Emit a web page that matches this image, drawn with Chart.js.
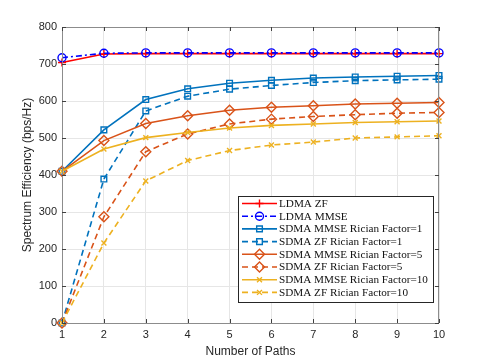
<!DOCTYPE html>
<html lang="en">
<head>
<meta charset="UTF-8">
<title>Spectrum Efficiency vs Number of Paths</title>
<script src="https://cdn.jsdelivr.net/npm/chart.js"></script>
<style>
  html, body { margin: 0; padding: 0; background: #fff; }
  #wrap { width: 485px; height: 363px; }
</style>
</head>
<body>
<div id="wrap"><canvas id="seChart" width="485" height="363"></canvas></div>
<script>
// data
const paths = [1, 2, 3, 4, 5, 6, 7, 8, 9, 10];
const yTicks = [0, 100, 200, 300, 400, 500, 600, 700, 800];

const ldmaZF      = [704, 727, 728, 728, 728, 728, 728, 728, 728, 728];
const ldmaMMSE    = [717, 729, 730, 730, 730, 730, 730, 730, 730, 730];
const sdmaMmseK1  = [410, 522, 604, 633, 648, 656, 662, 665, 667, 669];
const sdmaZfK1    = [0, 389, 573, 613, 632, 642, 650, 655, 657, 659];
const sdmaMmseK5  = [410, 493, 539, 560, 575, 583, 587, 592, 594, 596];
const sdmaZfK5    = [0, 287, 463, 511, 538, 551, 558, 563, 567, 569];
const sdmaMmseK10 = [410, 470, 501, 515, 527, 534, 538, 542, 544, 546];
const sdmaZfK10   = [0, 216, 384, 439, 466, 481, 489, 500, 503, 506];

const seriesNames = [
  'LDMA ZF',
  'LDMA MMSE',
  'SDMA MMSE Rician Factor=1',
  'SDMA ZF Rician Factor=1',
  'SDMA MMSE Rician Factor=5',
  'SDMA ZF Rician Factor=5',
  'SDMA MMSE Rician Factor=10',
  'SDMA ZF Rician Factor=10'
];
const seriesData = [ldmaZF, ldmaMMSE, sdmaMmseK1, sdmaZfK1, sdmaMmseK5, sdmaZfK5, sdmaMmseK10, sdmaZfK10];

// styles (matlab-ish)
const styles = [
  { color: '#ff0000', dash: [], marker: 'cross', r: 4 },
  { color: '#0000ff', dash: [6, 3, 2, 3], marker: 'circle', r: 4 },
  { color: '#0072bd', dash: [], marker: 'rect', r: 4 },
  { color: '#0072bd', dash: [6, 4], marker: 'rect', r: 4 },
  { color: '#d95319', dash: [], marker: 'rectRot', r: 5 },
  { color: '#d95319', dash: [6, 4], marker: 'rectRot', r: 5 },
  { color: '#edb120', dash: [], marker: 'crossRot', r: 3.5 },
  { color: '#edb120', dash: [6, 4], marker: 'crossRot', r: 3.5 }
];

const datasets = seriesNames.map((name, i) => ({
  label: name,
  data: paths.map((p, j) => ({ x: p, y: seriesData[i][j] })),
  borderColor: styles[i].color,
  backgroundColor: 'rgba(0,0,0,0)',
  borderWidth: 1.6,
  borderDash: styles[i].dash,
  pointStyle: styles[i].marker,
  pointRadius: styles[i].r,
  pointBorderWidth: 1.4,
  pointBorderColor: styles[i].color,
  pointBackgroundColor: 'rgba(0,0,0,0)',
  tension: 0,
  clip: false,
  order: 10 - i
}));

// box, inward ticks and the legend inside the plot
const boxPlugin = {
  id: 'boxPlugin',
  afterDraw(chart) {
    const { ctx, chartArea: a, scales } = chart;
    ctx.save();
    ctx.strokeStyle = '#8c8c8c';
    ctx.lineWidth = 1;
    ctx.setLineDash([]);
    ctx.strokeRect(a.left + 0.5, a.top + 0.5, a.right - a.left - 1, a.bottom - a.top);
    ctx.strokeStyle = '#404040';
    ctx.beginPath();
    yTicks.forEach(v => {
      const y = Math.round(scales.y.getPixelForValue(v)) + 0.5;
      ctx.moveTo(a.left, y); ctx.lineTo(a.left + 4, y);
      ctx.moveTo(a.right, y); ctx.lineTo(a.right - 4, y);
    });
    paths.forEach(v => {
      const x = Math.round(scales.x.getPixelForValue(v)) + 0.5;
      ctx.moveTo(x, a.bottom); ctx.lineTo(x, a.bottom - 4);
      ctx.moveTo(x, a.top); ctx.lineTo(x, a.top + 4);
    });
    ctx.stroke();

    // legend
    const lx = 238, ly = 196, lw = 195, lh = 106;
    ctx.fillStyle = '#fff';
    ctx.fillRect(lx, ly, lw, lh);
    ctx.strokeStyle = '#262626';
    ctx.strokeRect(lx + 0.5, ly + 0.5, lw, lh);
    ctx.font = '11.2px "Liberation Serif", serif';
    ctx.textBaseline = 'middle';
    chart.data.datasets.forEach((ds, i) => {
      const y = ly + 7.5 + i * 12.7;
      ctx.strokeStyle = ds.borderColor;
      ctx.lineWidth = 1.6;
      ctx.setLineDash(ds.borderDash);
      ctx.beginPath();
      ctx.moveTo(lx + 4, y); ctx.lineTo(lx + 39, y);
      ctx.stroke();
      ctx.setLineDash([]);
      ctx.lineWidth = 1.4;
      ctx.fillStyle = 'rgba(0,0,0,0)';
      Chart.helpers.drawPoint(ctx, { pointStyle: ds.pointStyle, radius: ds.pointRadius, rotation: 0, borderWidth: 1.4 }, lx + 21.5, y);
      ctx.fillStyle = '#111';
      ctx.fillText(ds.label, lx + 41, y + 0.5);
    });
    ctx.restore();
  }
};

new Chart(document.getElementById('seChart'), {
  type: 'line',
  data: { datasets: datasets },
  options: {
    responsive: false,
    animation: false,
    layout: { padding: { top: 27, right: 46, left: 20, bottom: 0 } },
    plugins: { legend: { display: false }, tooltip: { enabled: false } },
    scales: {
      x: {
        type: 'linear',
        min: 1, max: 10,
        afterFit: s => { s.height = 40; },
        afterBuildTicks: s => { s.ticks = paths.map(v => ({ value: v })); },
        grid: { color: '#e6e6e6', drawTicks: false },
        border: { display: false },
        ticks: { color: '#262626', padding: 5, font: { family: 'Liberation Sans', size: 11 } },
        title: {
          display: true, text: 'Number of Paths', color: '#262626',
          font: { family: 'Liberation Sans', size: 12 }, padding: { top: 0, bottom: 4 }
        }
      },
      y: {
        min: 0, max: 800,
        afterFit: s => { s.width = 42; },
        afterBuildTicks: s => { s.ticks = yTicks.map(v => ({ value: v })); },
        grid: { color: '#e6e6e6', drawTicks: false },
        border: { display: false },
        ticks: { color: '#262626', padding: 5, font: { family: 'Liberation Sans', size: 11 } },
        title: {
          display: true, text: 'Spectrum Efficiency (bps/Hz)', color: '#262626',
          font: { family: 'Liberation Sans', size: 12 }, padding: { top: 0, bottom: 4 }
        }
      }
    }
  },
  plugins: [boxPlugin]
});
</script>
</body>
</html>
